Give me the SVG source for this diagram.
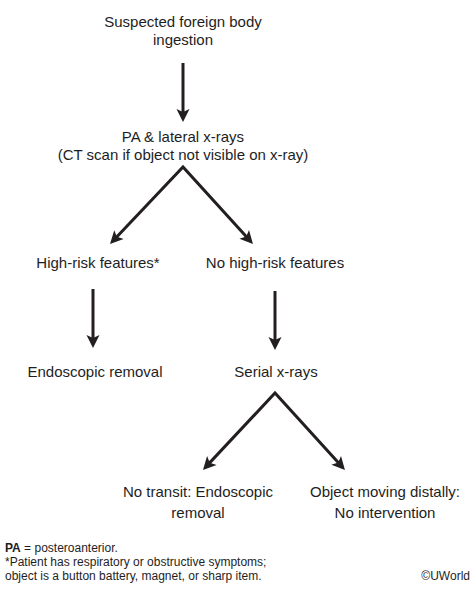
<svg xmlns="http://www.w3.org/2000/svg" width="475" height="589" viewBox="0 0 475 589">
<style>
.t{font-family:"Liberation Sans",Arial,sans-serif;font-size:15px;fill:#1e1e1e;text-anchor:middle}
.f{font-family:"Liberation Sans",Arial,sans-serif;font-size:12px;fill:#1e1e1e}
.c{fill:none;stroke:#231f20;stroke-width:3;stroke-linejoin:miter}
</style>
<defs>
<marker id="ah" markerUnits="userSpaceOnUse" markerWidth="14" markerHeight="14" refX="4" refY="6.5" orient="auto-start-reverse" overflow="visible">
<path d="M13,6.5 L0,0 L3,6.5 L0,13 Z" fill="#231f20"/>
</marker>
</defs>
<rect width="475" height="589" fill="#fff"/>
<g id="connectors">
<path class="c" d="M183,63 L183,113" marker-end="url(#ah)"/>
<path class="c" d="M116.2,237.5 L183,167 L246.9,237.3" marker-start="url(#ah)" marker-end="url(#ah)"/>
<path class="c" d="M93,289 L93,339" marker-end="url(#ah)"/>
<path class="c" d="M275,291 L275,341" marker-end="url(#ah)"/>
<path class="c" d="M209.1,463.4 L275,393 L338.9,463.3" marker-start="url(#ah)" marker-end="url(#ah)"/>
</g>
<g id="n-start"><text class="t" x="183" y="27">Suspected foreign body</text><text class="t" x="183" y="45">ingestion</text></g>
<g id="n-xray"><text class="t" x="183" y="142">PA &amp; lateral x-rays</text><text class="t" x="183" y="160">(CT scan if object not visible on x-ray)</text></g>
<g id="n-highrisk"><text class="t" x="98" y="268">High-risk features*</text></g>
<g id="n-nohighrisk"><text class="t" x="275" y="268">No high-risk features</text></g>
<g id="n-endo"><text class="t" x="95" y="377">Endoscopic removal</text></g>
<g id="n-serial"><text class="t" x="276" y="377">Serial x-rays</text></g>
<g id="n-notransit"><text class="t" x="198" y="497">No transit: Endoscopic</text><text class="t" x="198" y="518">removal</text></g>
<g id="n-moving"><text class="t" x="385" y="497">Object moving distally:</text><text class="t" x="385" y="518">No intervention</text></g>
<g id="footer">
<text class="f" x="5" y="552"><tspan font-weight="bold">PA</tspan> = posteroanterior.</text>
<text class="f" x="5" y="566">*Patient has respiratory or obstructive symptoms;</text>
<text class="f" x="5" y="580">object is a button battery, magnet, or sharp item.</text>
<text class="f" x="470" y="580" text-anchor="end">©UWorld</text>
</g>
</svg>
